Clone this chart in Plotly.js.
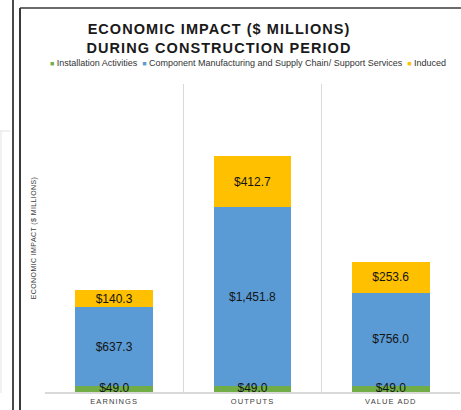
<!DOCTYPE html>
<html>
<head>
<meta charset="utf-8">
<script src="https://cdn.plot.ly/plotly-3.0.1.min.js"></script>
<style>
  html, body { margin: 0; padding: 0; background: #fff; }
  #chart { width: 461px; height: 410px; }
  .gtitle { letter-spacing: 1.05px; }
  .xtick text { letter-spacing: 1.1px; }
  .ytitle { letter-spacing: 0.4px; }
</style>
</head>
<body>
<div id="chart"></div>
<script>
// ---- data ----
const categories = ["EARNINGS", "OUTPUTS", "VALUE ADD"];
const seriesNames = ["Installation Activities", "Component Manufacturing and Supply Chain/ Support Services", "Induced"];
const installation = [49.0, 49.0, 49.0];
const component = [637.3, 1451.8, 756.0];
const induced = [140.3, 412.7, 253.6];
const seriesColors = ["#70AD47", "#5B9BD5", "#FFC000"];

const fmt = v => "$" + v.toLocaleString("en-US", {minimumFractionDigits: 1, maximumFractionDigits: 1});

const FONT = "Liberation Sans, Arial, sans-serif";
const W = 461, H = 410, ML = 45, MR = 1, MT = 84, MB = 18;
const PW = W - ML - MR, PH = H - MT - MB;
const px = x => (x - ML) / PW;
const py = y => (H - MB - y) / PH;

function barTrace(vals, i, showText) {
  return {
    type: "bar",
    x: categories,
    y: vals,
    name: seriesNames[i],
    marker: {color: seriesColors[i], line: {width: 0}},
    text: showText ? vals.map(fmt) : undefined,
    textposition: showText ? "inside" : "none",
    insidetextanchor: "middle",
    constraintext: "none",
    textfont: {family: FONT, size: 12, color: "#141414"},
    cliponaxis: false,
    hoverinfo: "skip"
  };
}

const traces = [
  barTrace(installation, 0, false),
  barTrace(component, 1, true),
  barTrace(induced, 2, true),
  {
    type: "scatter",
    mode: "text",
    x: categories,
    y: installation.map(v => v / 2),
    text: installation.map(fmt),
    textposition: "middle center",
    textfont: {family: FONT, size: 12, color: "#141414"},
    cliponaxis: false,
    showlegend: false,
    hoverinfo: "skip"
  }
];

const legendText = seriesNames.map((n, i) =>
  '<span style="color:' + seriesColors[i] + ';font-size:7px">■</span> ' + n
).join("  ");

const line = (x0, y0, x1, y1, color, width) => ({
  type: "line", xref: "paper", yref: "paper",
  x0: px(x0), y0: py(y0), x1: px(x1), y1: py(y1),
  line: {color: color, width: width}, layer: "above"
});

const layout = {
  width: W, height: H,
  margin: {l: ML, r: MR, t: MT, b: MB, pad: 0},
  paper_bgcolor: "#ffffff",
  plot_bgcolor: "#ffffff",
  barmode: "stack",
  bargap: 0.44,
  showlegend: false,
  hovermode: false,
  title: {
    text: "ECONOMIC IMPACT ($ MILLIONS)<br>DURING CONSTRUCTION PERIOD",
    x: 219 / W, xref: "container", xanchor: "center",
    y: 1 - 34 / H, yref: "container", yanchor: "top",
    font: {family: FONT, size: 14.5, color: "#1a1a1a", weight: "bold"}
  },
  xaxis: {
    type: "category",
    tickson: "boundaries",
    showgrid: true,
    gridcolor: "#d9d9d9",
    gridwidth: 1.5,
    showline: true,
    linecolor: "#d9d9d9",
    linewidth: 1.5,
    ticks: "",
    tickfont: {family: FONT, size: 7.5, color: "#404040"},
    ticklabelstandoff: 1,
    zeroline: false
  },
  yaxis: {
    range: [0, 2500],
    showgrid: false,
    showticklabels: false,
    ticks: "",
    zeroline: false,
    showline: false,
    title: {
      text: "ECONOMIC IMPACT ($ MILLIONS)",
      font: {family: FONT, size: 7, color: "#404040"},
      standoff: 6
    }
  },
  annotations: [{
    xref: "paper", yref: "paper",
    x: px(248), y: py(63),
    xanchor: "center", yanchor: "middle",
    showarrow: false,
    text: legendText,
    font: {family: FONT, size: 9, color: "#333333"}
  }],
  shapes: [
    line(13, 0, 13, 410, "#4a4a4a", 2),
    line(20, 410, 20, 8, "#3a3a3a", 2),
    line(20, 8, 461, 8, "#3a3a3a", 1.5),
    line(0, 131, 10, 131, "#e3e3e3", 1),
    line(1, 131, 1, 393, "#e3e3e3", 1)
  ]
};

Plotly.newPlot("chart", traces, layout, {displayModeBar: false, staticPlot: true});
</script>
</body>
</html>
